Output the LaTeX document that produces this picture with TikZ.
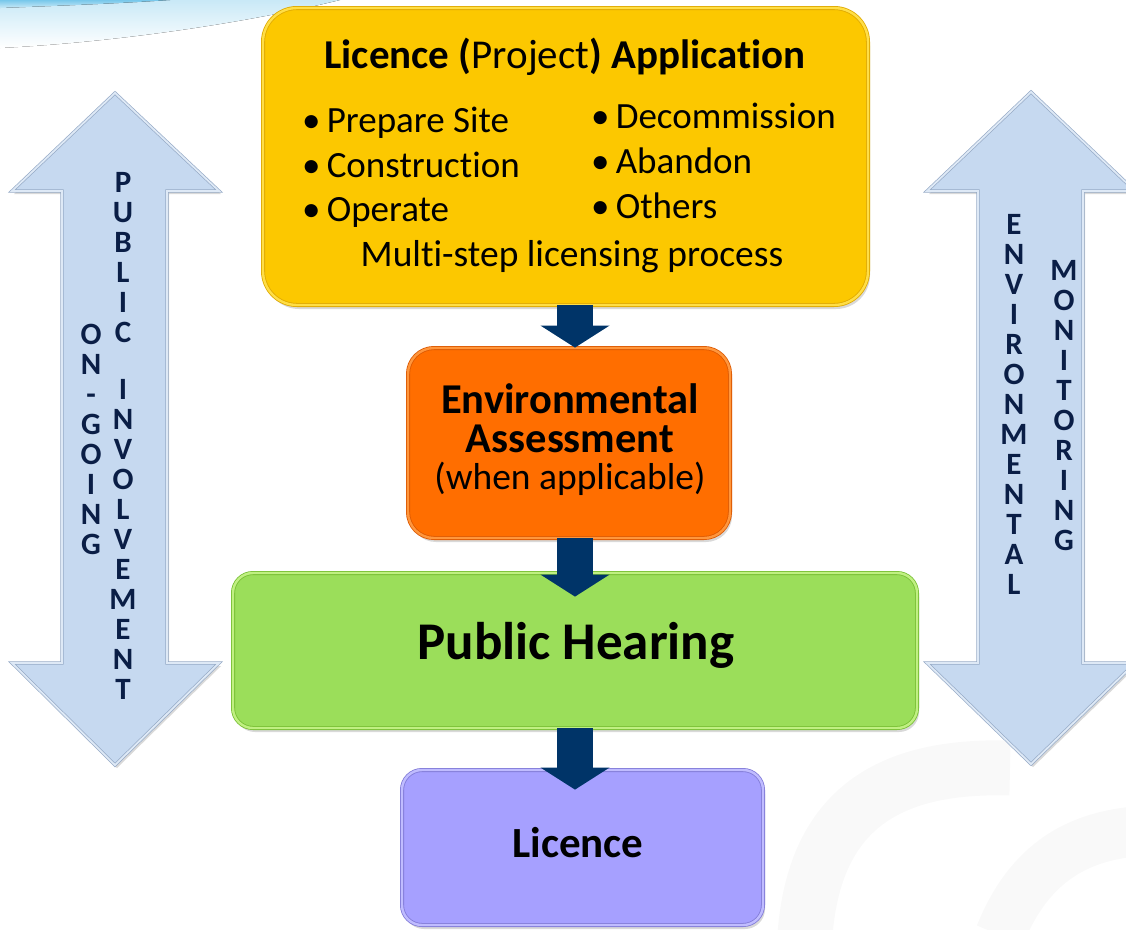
\documentclass[tikz,border=0pt]{standalone}
\usepackage{fontspec}
\setmainfont{Carlito}[Ligatures=NoCommon]
\usetikzlibrary{arrows.meta,calc,shadows}

\definecolor{appfill}{RGB}{252,200,0}
\definecolor{appedge}{RGB}{222,168,0}
\definecolor{applight}{RGB}{255,222,70}
\definecolor{eafill}{RGB}{255,110,0}
\definecolor{eaedge}{RGB}{220,88,0}
\definecolor{ealight}{RGB}{255,150,60}
\definecolor{phfill}{RGB}{155,222,90}
\definecolor{phedge}{RGB}{118,190,50}
\definecolor{phlight}{RGB}{192,240,130}
\definecolor{licfill}{RGB}{166,160,255}
\definecolor{licedge}{RGB}{128,122,215}
\definecolor{liclight}{RGB}{192,188,255}
\definecolor{navy}{RGB}{0,52,104}
\definecolor{sidefill}{RGB}{198,217,240}
\definecolor{sideedge}{RGB}{150,170,198}
\definecolor{sidelight}{RGB}{222,233,246}
\definecolor{sidetxt}{RGB}{10,30,70}
\definecolor{swoosh}{RGB}{120,200,235}
\definecolor{watermark}{RGB}{249,249,249}

\tikzset{
  stepbox/.style={rounded corners=#1, inner sep=0pt, line width=0.8pt, double distance=2.4pt,
    drop shadow={opacity=0.3, shadow xshift=2pt, shadow yshift=-4pt}},
  flow/.style={draw=navy, line width=36pt, -{Triangle[width=69pt,length=22pt,line width=0pt]}},
  sidearrow/.style={fill=sidefill, draw=sideedge, double=sidelight, double distance=1.8pt,
    line width=0.7pt, line join=miter,
    drop shadow={opacity=0.3, shadow xshift=2pt, shadow yshift=-3pt}},
  sidetext/.style={text=sidetxt, align=center, inner sep=0pt, anchor=north,
    font=\bfseries\fontsize{31}{30}\selectfont},
  boxtext/.style={inner sep=0pt, anchor=base}
}

\begin{document}
\begin{tikzpicture}[x=1pt, y=-1pt]
  \useasboundingbox (0,0) rectangle (1126,929);

  % background
  \fill[top color=swoosh!40, bottom color=white] (0,0) -- (340,0) .. controls (250,22) and (120,42) .. (0,48) -- cycle;
  \fill[top color=swoosh, bottom color=swoosh!40] (0,0) -- (170,0) .. controls (110,4) and (50,6) .. (0,8) -- cycle;
  \draw[watermark, line width=55pt] (805,935) .. controls (815,800) and (900,765) .. (1010,768);
  \draw[watermark, line width=50pt] (1000,935) .. controls (1030,860) and (1080,838) .. (1130,832);

  % side arrows
  \filldraw[sidearrow] (115,93) -- (219,191) -- (167,191) -- (167,663) -- (219,663) -- (115,765)
    -- (12,663) -- (62,663) -- (62,191) -- (12,191) -- cycle;
  \filldraw[sidearrow] (1031,92) -- (1135,191) -- (1083,191) -- (1083,663) -- (1135,663) -- (1031,764)
    -- (927,663) -- (978,663) -- (978,191) -- (927,191) -- cycle;

  \node[sidetext] (ongoing) at (91,324) {O\\N\\-\\G\\O\\I\\N\\G};
  \node[sidetext] (public) at (123,172) {P\\U\\B\\L\\I\\C\\[27pt]I\\N\\V\\O\\L\\V\\E\\M\\E\\N\\T};
  \node[sidetext] (environ) at (1014,214) {E\\N\\V\\I\\R\\O\\N\\M\\E\\N\\T\\A\\L};
  \node[sidetext] (monitor) at (1064,260) {M\\O\\N\\I\\T\\O\\R\\I\\N\\G};

  % process boxes
  \node[stepbox=34pt, fill=appfill, draw=appedge, double=applight,
    minimum width=605pt, minimum height=297pt] (app) at (565.5,156.5) {};
  \node[stepbox=26pt, fill=eafill, draw=eaedge, double=ealight,
    minimum width=322pt, minimum height=190pt] (ea) at (569,443) {};
  \node[stepbox=20pt, fill=phfill, draw=phedge, double=phlight,
    minimum width=684pt, minimum height=155pt] (hearing) at (575,650.5) {};
  \node[stepbox=20pt, fill=licfill, draw=licedge, double=liclight,
    minimum width=361pt, minimum height=155pt] (licence) at (582.5,847.5) {};

  % texts
  \node[boxtext, font=\fontsize{41}{48}\selectfont] (apptitle) at (565,68)
    {{\bfseries Licence (}Project{\bfseries ) Application}};
  \node[boxtext, anchor=base west, font=\fontsize{37}{42}\selectfont] (prep) at (302,132) {•\,Prepare Site};
  \node[boxtext, anchor=base west, font=\fontsize{37}{42}\selectfont] (constr) at (302,177) {•\,Construction};
  \node[boxtext, anchor=base west, font=\fontsize{37}{42}\selectfont] (operate) at (302,221) {•\,Operate};
  \node[boxtext, anchor=base west, font=\fontsize{37}{42}\selectfont] (decom) at (591,128) {•\,Decommission};
  \node[boxtext, anchor=base west, font=\fontsize{37}{42}\selectfont] (aband) at (591,173) {•\,Abandon};
  \node[boxtext, anchor=base west, font=\fontsize{37}{42}\selectfont] (others) at (591,218) {•\,Others};
  \node[boxtext, font=\fontsize{37.5}{42}\selectfont] (multi) at (572,266) {Multi-step licensing process};

  \node[boxtext, font=\bfseries\fontsize{42.5}{48}\selectfont] (eaone) at (570,413) {Environmental};
  \node[boxtext, font=\bfseries\fontsize{42.5}{48}\selectfont] (eatwo) at (570,452) {Assessment};
  \node[boxtext, font=\fontsize{37.5}{42}\selectfont] (eathree) at (570,489) {(when applicable)};

  \node[boxtext, font=\bfseries\fontsize{53}{60}\selectfont] (phtext) at (576,659) {Public Hearing};
  \node[boxtext, font=\bfseries\fontsize{43}{50}\selectfont] (lictext) at (578,857) {Licence};

  % flow arrows
  \draw[flow] (app.south -| hearing.north) -- (ea.north -| hearing.north);
  \draw[flow] (ea.south -| hearing.north) -- ($(hearing.north)+(0,24)$);
  \draw[flow] (hearing.south) -- ($(licence.north -| hearing.north)+(0,20)$);
\end{tikzpicture}
\end{document}
